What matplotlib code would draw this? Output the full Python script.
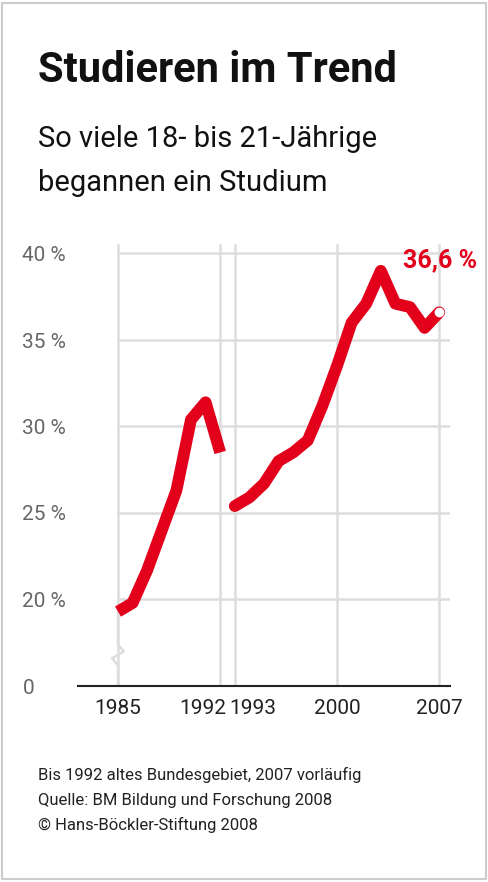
import matplotlib.pyplot as plt
from matplotlib.patches import Rectangle

plt.rcParams['font.family'] = ['Roboto', 'DejaVu Sans']

years_a = [1985, 1986, 1987, 1988, 1989, 1990, 1991, 1992]
vals_a = [19.3, 19.8, 21.7, 24.0, 26.3, 30.4, 31.4, 28.5]
years_b = [1993, 1994, 1995, 1996, 1997, 1998, 1999, 2000, 2001, 2002, 2003, 2004, 2005, 2006, 2007]
vals_b = [25.4, 25.9, 26.7, 28.0, 28.5, 29.2, 31.2, 33.5, 36.0, 37.1, 39.0, 37.1, 36.9, 35.7, 36.6]
tick_years = [1985, 1992, 1993, 2000, 2007]
y_ticks = [15, 20, 25, 30, 35, 40]
y_labels = ['0', '20 %', '25 %', '30 %', '35 %', '40 %']

RED = '#e2001a'
W, H = 488, 882
fig = plt.figure(figsize=(W / 100, H / 100), dpi=100)
fig.patches.append(Rectangle((0.004, 0.003), 0.992, 0.994, transform=fig.transFigure,
                             fill=False, edgecolor='#cccccc', lw=1.5))

ax = fig.add_axes([78 / W, 1 - 686 / H, (450 - 78) / W, (686 - 240) / H])
ax.set_xlim(1985 - 40 / 14.6, 1985 + (450 - 118) / 14.6)
ax.set_ylim(15, 15 + (686 - 240) / 17.3)
for s in ['top', 'right', 'left']:
    ax.spines[s].set_visible(False)
ax.spines['bottom'].set_linewidth(1.5)
ax.spines['bottom'].set_color('#222222')

for v in y_ticks[1:]:
    ax.axhline(v, color='#dddddd', lw=1.8, zorder=1, xmin=40 / 372)
for yr in tick_years:
    ax.plot([yr, yr], [15, 40.5], color='#dddddd', lw=1.8, zorder=1)

# axis break on 1985 line
ax.plot([1985, 1985, 1984.6, 1985.4, 1985, 1985], [15, 16.2, 16.6, 17.0, 17.4, 19.3],
        color='#dddddd', lw=1.8, zorder=2)

ax.plot(years_a, vals_a, color=RED, lw=8.5, solid_capstyle='butt', solid_joinstyle='round', zorder=3)
ax.plot(years_b, vals_b, color=RED, lw=8.5, solid_capstyle='round', solid_joinstyle='round', zorder=3)
ax.plot(years_b[-1], vals_b[-1], 'o', ms=6, color='white', zorder=4, clip_on=False)
ax.text(years_b[-1] + 2.6, 39.6, '36,6 %', color=RED, fontsize=18, fontweight='bold',
        ha='right', va='center', zorder=5)

ax.set_yticks(y_ticks)
ax.set_yticklabels(y_labels, fontsize=15, color='#666666', ha='left')
ax.tick_params(axis='y', length=0, pad=40)
ax.set_xticks(tick_years)
ax.set_xticklabels([str(y) for y in tick_years], fontsize=15, color='#222222')
lbls = ax.get_xticklabels()
lbls[1].set_ha('right')
lbls[1].set_x(1992.3)
lbls[2].set_ha('left')
ax.tick_params(axis='x', length=0, pad=9)
# shift 1992/1993 apart slightly via offsets
import matplotlib.transforms as mtrans
lbls[1].set_transform(lbls[1].get_transform() + mtrans.ScaledTranslation(0.06, 0, fig.dpi_scale_trans))
lbls[2].set_transform(lbls[2].get_transform() + mtrans.ScaledTranslation(-0.05, 0, fig.dpi_scale_trans))

fig.text(38 / W, 1 - 82 / H, 'Studieren im Trend', fontsize=30, fontweight='bold', color='#111111')
fig.text(38 / W, 1 - 147 / H, 'So viele 18- bis 21-Jährige', fontsize=21, color='#111111')
fig.text(38 / W, 1 - 191 / H, 'begannen ein Studium', fontsize=21, color='#111111')
foot = ['Bis 1992 altes Bundesgebiet, 2007 vorläufig',
        'Quelle: BM Bildung und Forschung 2008',
        '© Hans-Böckler-Stiftung 2008']
for i, t in enumerate(foot):
    fig.text(38 / W, 1 - (780 + i * 25) / H, t, fontsize=12, color='#222222')

fig.savefig('out.png', dpi=100)
